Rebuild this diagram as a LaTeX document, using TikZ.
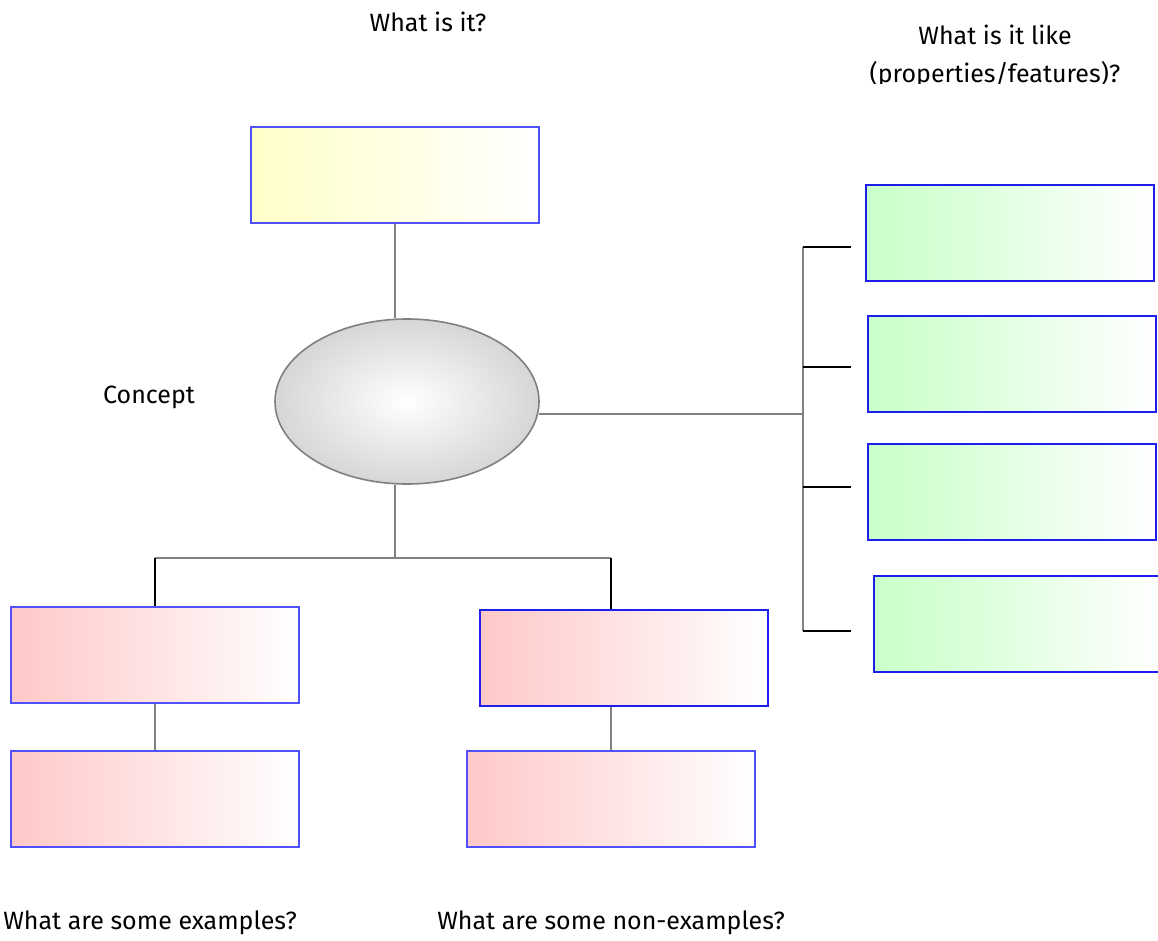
\documentclass[tikz,border=0pt]{standalone}
\usepackage{fontspec}
\setmainfont{Fira Sans}
\usetikzlibrary{shapes.geometric}
\definecolor{boxblue}{RGB}{80,80,255}
\definecolor{boxblue2}{RGB}{30,30,235}
\definecolor{lineg}{RGB}{128,128,128}
\definecolor{yel}{RGB}{255,255,200}
\definecolor{pnk}{RGB}{255,200,200}
\definecolor{grn}{RGB}{200,255,200}
\tikzset{
  box/.style={draw=boxblue, line width=1.5pt, rectangle, minimum width=288pt, minimum height=96pt, inner sep=0pt},
  ybox/.style={box, left color=yel, right color=white},
  pbox/.style={box, left color=pnk, right color=white},
  gbox/.style={box, draw=boxblue2, line width=1.3pt, left color=grn, right color=white},
  glink/.style={draw=lineg, line width=2.3pt},
  blink/.style={draw=black, line width=2.3pt},
  lbl/.style={font=\fontsize{25}{30}\selectfont, inner sep=0pt, anchor=base}
}
\begin{document}
\begin{tikzpicture}[x=1pt,y=-1pt]
\useasboundingbox (0,0) rectangle (1158,940);
% boxes
\node[ybox] (what) at (395,175) {};
\node[ellipse, draw=lineg, line width=1.6pt, inner color=white, outer color=gray!32, minimum width=264pt, minimum height=165pt, inner sep=0pt] (ell) at (407,401.5) {};
\node[gbox] (g1) at (1010,233) {};
\node[gbox] (g2) at (1012,364) {};
\node[gbox] (g3) at (1012,492) {};
\node[gbox] (g4) at (1018,624) {};
\node[pbox] (exA) at (155,655) {};
\node[pbox, draw=boxblue2] (exB) at (624,658) {};
\node[pbox] (exC) at (155,799) {};
\node[pbox] (exD) at (611,799) {};
% coordinates
\coordinate (spine) at (803,414);
\coordinate (t1) at (803,247);
\coordinate (t2) at (803,367);
\coordinate (t3) at (803,487);
\coordinate (t4) at (803,631);
\coordinate (e1) at (851,247);
\coordinate (e2) at (851,367);
\coordinate (e3) at (851,487);
\coordinate (e4) at (851,631);
\coordinate (hub) at (395,558);
\coordinate (hl) at (155,558);
\coordinate (hr) at (611,558);
% connectors
\draw[glink] (what.south) -- (what.south |- ell.north);
\draw[glink] (ell.-5.7 |- spine) -- (spine);
\draw[glink] (t1) -- (t4);
\draw[blink] (t1) -- (e1);
\draw[blink] (t2) -- (e2);
\draw[blink] (t3) -- (e3);
\draw[blink] (t4) -- (e4);
\draw[glink] (hub |- ell.south) -- (hub);
\draw[glink] (hl) -- (hr);
\draw[blink] (hl) -- (exA.north);
\draw[blink] (hr) -- (hr |- exB.north);
\draw[glink] (exA.south) -- (exC.north);
\draw[glink] (exD.north) -- (exD.north |- exB.south);
% labels
\node[lbl] (q1) at (428,31) {What is it?};
\begin{scope}
\clip (700,0) rectangle (1158,83);
\node[lbl] (q2) at (995,44) {What is it like};
\node[lbl] (q3) at (995,82) {(properties/features)?};
\end{scope}
\node[lbl] (con) at (149,403) {Concept};
\node[lbl] (q4) at (150,929) {What are some examples?};
\node[lbl] (q5) at (611,929) {What are some non-examples?};
\end{tikzpicture}
\end{document}
